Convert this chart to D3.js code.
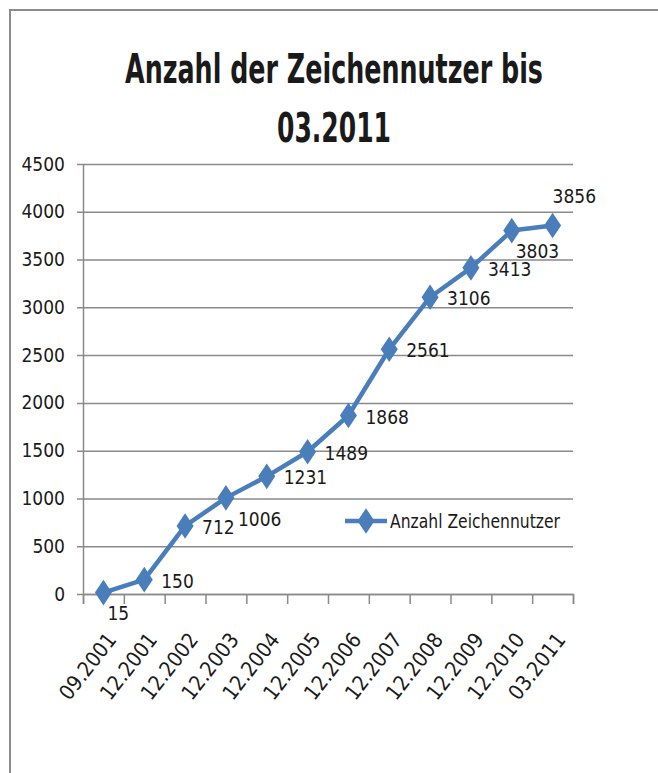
<!DOCTYPE html>
<html lang="de">
<head>
<meta charset="UTF-8">
<title>Anzahl der Zeichennutzer</title>
<script src="https://cdn.jsdelivr.net/npm/d3@7"></script>
<style>
    body { margin: 0; background: #fff; }
    text { font-family: "DejaVu Sans Condensed", "Liberation Sans Narrow", sans-serif; fill: #1a1a1a; }
</style>
</head>
<body>
<div id="fig"></div>
<script>
// data
const categories = ["09.2001", "12.2001", "12.2002", "12.2003", "12.2004", "12.2005",
    "12.2006", "12.2007", "12.2008", "12.2009", "12.2010", "03.2011"]
const users = [15, 150, 712, 1006, 1231, 1489, 1868, 2561, 3106, 3413, 3803, 3856]
// where excel put each data label
const labelPlace = ["below", "right", "right", "lowright", "right", "right",
    "right", "right", "right", "right", "below", "above"]
const yTicks = [0, 500, 1000, 1500, 2000, 2500, 3000, 3500, 4000, 4500]
const titleLines = ["Anzahl der Zeichennutzer bis", "03.2011"]
const seriesName = "Anzahl Zeichennutzer"

const W = 658, H = 773
const plot = {left: 83, right: 573, top: 164, bottom: 594}
const blue = "#4a7ebb", grey = "#8a8a8a"

let svg = d3.select("#fig").append("svg")
    .attr("width", W).attr("height", H)

// frame
svg.append("path")
    .attr("d", `M10,${H} L10,10 L${W},10`)
    .attr("fill", "none").attr("stroke", "#8c8c8c").attr("stroke-width", 2)

// title - the original font is tall and narrow, so squeeze it sideways
const titleY = [83, 142], titleW = [418, 114]
titleLines.forEach((t, i) => {
    let txt = svg.append("text")
        .attr("text-anchor", "middle")
        .attr("font-size", 40).attr("font-weight", "bold")
        .text(t)
    let k = titleW[i] / txt.node().getComputedTextLength()
    txt.attr("transform", `translate(334,${titleY[i]}) scale(${k},1)`)
})

const x = d3.scaleBand().domain(categories).range([plot.left, plot.right])
const xEdge = d3.scaleLinear().domain([0, categories.length]).range([plot.left, plot.right])
const y = d3.scaleLinear().domain([0, 4500]).range([plot.bottom, plot.top])

// gridlines
svg.append("g")
    .attr("transform", `translate(${plot.left - 6},0)`)
    .call(d3.axisLeft(y).tickValues(yTicks).tickSize(-(plot.right - plot.left + 6)).tickFormat(""))
    .call(g => g.select(".domain").remove())
    .selectAll("line").attr("stroke", grey).attr("stroke-width", 1.5)

// y axis
svg.append("g")
    .attr("transform", `translate(${plot.left},0)`)
    .call(d3.axisLeft(y).tickValues(yTicks).tickSize(0).tickPadding(18).tickFormat(d3.format("d")))
    .call(g => g.select(".domain").attr("stroke", grey).attr("stroke-width", 1.5))
    .selectAll("text").attr("font-size", 19).attr("fill", "#1a1a1a")

// x axis ticks between categories
svg.append("g")
    .attr("transform", `translate(0,${plot.bottom})`)
    .call(d3.axisBottom(xEdge).ticks(categories.length).tickSize(10).tickFormat(""))
    .call(g => g.select(".domain").attr("stroke", grey).attr("stroke-width", 1.5))
    .selectAll("line").attr("stroke", grey).attr("stroke-width", 1.5)

// x labels
svg.append("g")
    .attr("transform", `translate(0,${plot.bottom})`)
    .call(d3.axisBottom(x).tickSize(0).tickFormat(d => d))
    .call(g => g.select(".domain").remove())
    .selectAll("text")
    .attr("font-size", 21).attr("fill", "#1a1a1a")
    .attr("text-anchor", "end")
    .attr("x", 0).attr("y", 0).attr("dy", 0)
    .attr("transform", "translate(14,46) rotate(-52)")

const cx = d => x(d) + x.bandwidth() / 2

// line
svg.append("path")
    .datum(users)
    .attr("fill", "none").attr("stroke", blue).attr("stroke-width", 4.5)
    .attr("stroke-linejoin", "round")
    .attr("d", d3.line().x((d, i) => cx(categories[i])).y(d => y(d)))

// markers
const diamond = d3.symbol().type(d3.symbolDiamond).size(190)
svg.selectAll(".pt")
    .data(users).enter()
    .append("path").attr("class", "pt")
    .attr("d", diamond)
    .attr("fill", blue)
    .attr("transform", (d, i) => `translate(${cx(categories[i])},${y(d)}) scale(1.15,1)`)

// data labels
const offs = {right: [17, 8], lowright: [12, 28], below: [4, 27], above: [0, -23]}
svg.selectAll(".lbl")
    .data(users).enter()
    .append("text").attr("class", "lbl")
    .attr("x", (d, i) => cx(categories[i]) + offs[labelPlace[i]][0])
    .attr("y", (d, i) => y(d) + offs[labelPlace[i]][1])
    .attr("font-size", 19)
    .text(d => d)

// legend
const lg = svg.append("g").attr("transform", "translate(345,521)")
lg.append("line").attr("x1", 0).attr("x2", 42)
    .attr("stroke", blue).attr("stroke-width", 4.5)
lg.append("path").attr("d", diamond).attr("fill", blue)
    .attr("transform", "translate(21,0) scale(1.15,1)")
lg.append("text").attr("x", 45).attr("y", 7)
    .attr("font-size", 19)
    .attr("textLength", 170).attr("lengthAdjust", "spacingAndGlyphs")
    .text(seriesName)
</script>
</body>
</html>
